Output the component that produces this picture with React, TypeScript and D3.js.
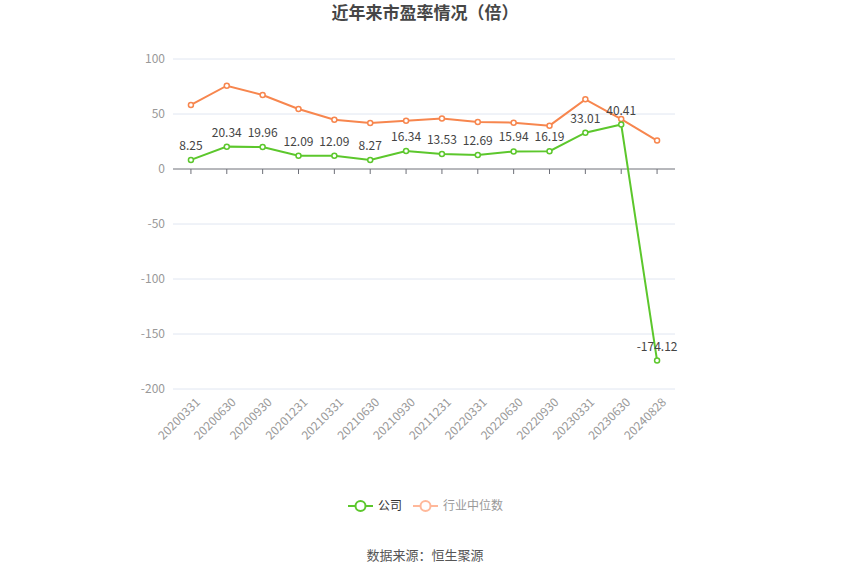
import React from "react";
import * as d3 from "d3";

const categories = ["20200331","20200630","20200930","20201231","20210331","20210630","20210930","20211231","20220331","20220630","20220930","20230331","20230630","20240828"];
const companyValues = [8.25,20.34,19.96,12.09,12.09,8.27,16.34,13.53,12.69,15.94,16.19,33.01,40.41,-174.12];
const industryValues = [58.2,75.7,67.3,54.5,44.8,41.8,43.9,46.0,42.7,42.1,39.4,63.3,45.4,25.8];
const yTicks = [100,50,0,-50,-100,-150,-200];
const seriesNames = ["公司","行业中位数"];

const W = 850, H = 575;
const left = 173, right = 675, top = 59, bottom = 389;
const GREEN = "#5cc72c";
const ORANGE = "#f7864e";
const FONT = "'Noto Sans CJK SC', 'Noto Sans', sans-serif";

export default function App() {
  const x = d3.scaleBand<string>().domain(categories).range([left, right]);
  const y = d3.scaleLinear().domain([-200, 100]).range([bottom, top]);
  const cx = (c: string) => (x(c) as number) + x.bandwidth() / 2;
  const line = d3.line<number>().x((_, i) => cx(categories[i])).y(d => y(d));

  return (
    <svg width={W} height={H} style={{ position: "absolute", left: 0, top: 0, background: "#fff" }} fontFamily={FONT}>
      <text x={425} y={19} textAnchor="middle" fontSize={17} fontWeight="bold" fill="#464646">近年来市盈率情况（倍）</text>
      {yTicks.map(t => (
        <g key={t}>
          {t !== 0 && <line x1={left} x2={right} y1={y(t)} y2={y(t)} stroke="#e0e6f1" strokeWidth={1} />}
          <text x={165} y={y(t)} dy="0.35em" textAnchor="end" fontSize={12} fill="#999">{t}</text>
        </g>
      ))}
      <line x1={left} x2={right} y1={y(0)} y2={y(0)} stroke="#6e7079" strokeWidth={1} />
      {categories.map(c => (
        <g key={c}>
          <line x1={cx(c)} x2={cx(c)} y1={y(0)} y2={y(0) + 5} stroke="#6e7079" />
          <text transform={`translate(${cx(c) + 4},${bottom + 8}) rotate(-45)`} textAnchor="end" dy="0.7em" fontSize={12} fill="#999">{c}</text>
        </g>
      ))}
      <path d={line(industryValues) || ""} fill="none" stroke={ORANGE} strokeWidth={2} />
      <path d={line(companyValues) || ""} fill="none" stroke={GREEN} strokeWidth={2} />
      {industryValues.map((v, i) => (
        <circle key={"o" + i} cx={cx(categories[i])} cy={y(v)} r={2.5} fill="#fff" stroke={ORANGE} strokeWidth={1.5} />
      ))}
      {companyValues.map((v, i) => (
        <circle key={"g" + i} cx={cx(categories[i])} cy={y(v)} r={2.5} fill="#fff" stroke={GREEN} strokeWidth={1.5} />
      ))}
      {companyValues.map((v, i) => (
        <text key={"l" + i} x={cx(categories[i])} y={y(v) - 10} textAnchor="middle" fontSize={12} fill="#444">{v.toFixed(2)}</text>
      ))}
      <g>
        <line x1={348} x2={373} y1={506} y2={506} stroke={GREEN} strokeWidth={2} />
        <circle cx={360.5} cy={506} r={5} fill="#fff" stroke={GREEN} strokeWidth={2} />
        <text x={378} y={506} dy="0.35em" fontSize={12} fill="#333">{seriesNames[0]}</text>
        <line x1={413} x2={438} y1={506} y2={506} stroke="#ffb89a" strokeWidth={2} />
        <circle cx={425.5} cy={506} r={5} fill="#fff" stroke="#ffb89a" strokeWidth={2} />
        <text x={443} y={506} dy="0.35em" fontSize={12} fill="#999">{seriesNames[1]}</text>
      </g>
      <text x={425} y={555} dy="0.35em" textAnchor="middle" fontSize={13} fill="#555">数据来源：恒生聚源</text>
    </svg>
  );
}
